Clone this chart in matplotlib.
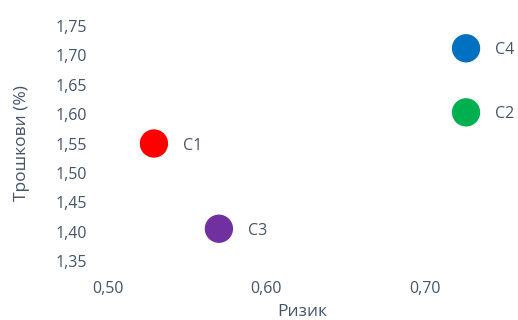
import matplotlib
matplotlib.use("Agg")
import matplotlib.pyplot as plt
from matplotlib.ticker import FuncFormatter, MultipleLocator

names = ["C1", "C2", "C3", "C4"]
risk = [0.529, 0.726, 0.570, 0.726]
cost = [1.550, 1.603, 1.405, 1.712]
colors = ["#FF0000", "#00B050", "#7030A0", "#0070C0"]

text_col = "#44546A"
plt.rcParams['font.family'] = ['Open Sans', 'DejaVu Sans']
plt.rcParams['font.size'] = 11.5

fig = plt.figure(figsize=(5.18, 3.2), dpi=100)
ax = fig.add_axes([0.1779, 0.1475, 0.8105, 0.8081])

ax.scatter(risk, cost, s=450, c=colors, edgecolors="white", linewidths=0.8, zorder=3)
for n, x, y in zip(names, risk, cost):
    ax.annotate(n, (x, y), xytext=(21, 0), textcoords="offset points",
                va="center_baseline", ha="left", color=text_col)

ax.set_xlim(0.49, 0.755)
ax.set_ylim(1.33, 1.77)
ax.xaxis.set_major_locator(MultipleLocator(0.1))
ax.yaxis.set_major_locator(MultipleLocator(0.05))
comma = FuncFormatter(lambda v, p: f"{v:.2f}".replace(".", ","))
ax.xaxis.set_major_formatter(comma)
ax.yaxis.set_major_formatter(comma)
ax.tick_params(axis="both", length=0, colors=text_col)
ax.tick_params(axis="x", pad=6)
ax.tick_params(axis="y", pad=4)
for s in ax.spines.values():
    s.set_visible(False)

ax.set_xlabel("Ризик", color=text_col, fontsize=12.5, labelpad=5)
ax.set_ylabel("Трошкови (%)", color=text_col, fontsize=12.5, labelpad=18)

fig.savefig("out.png", dpi=100)
